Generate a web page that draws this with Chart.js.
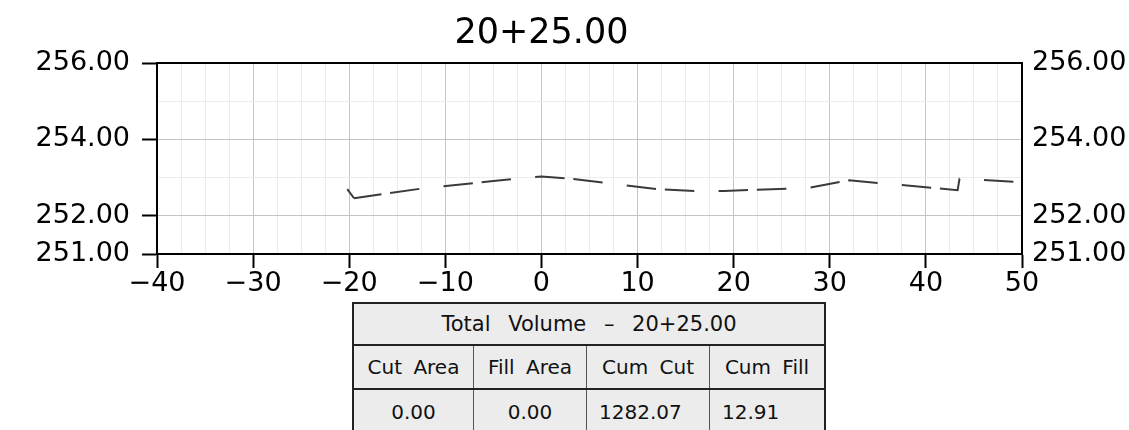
<!DOCTYPE html>
<html>
<head>
<meta charset="utf-8">
<script src="https://cdn.jsdelivr.net/npm/chart.js@4"></script>
<style>
  html, body { margin:0; padding:0; background:#fff; width:1129px; height:430px; overflow:hidden; }
  #wrap { position:relative; width:1129px; height:430px; }
  #c { position:absolute; left:0; top:0; }
  #title { position:absolute; top:10px; height:42px; line-height:42px; transform:translateX(-50%);
           font-family:"DejaVu Sans", sans-serif; font-size:35px; color:#000; white-space:nowrap; }
  #tbl { position:absolute; left:352px; top:302px; width:474px; box-sizing:border-box;
         border:2px solid #222; border-bottom:none; background:#ececec;
         font-family:"DejaVu Sans", sans-serif; font-size:20px; color:#111; word-spacing:5px; }
  .row { display:flex; box-sizing:border-box; }
  .hdr { height:42px; border-bottom:2px solid #222; justify-content:center; align-items:center; font-size:21px; word-spacing:11px; }
  .r2 { height:44px; border-bottom:2px solid #222; }
  .r3 { height:44px; }
  .cell { box-sizing:border-box; display:flex; align-items:center; justify-content:center; border-right:1px solid #555; white-space:nowrap; }
  .cell:last-child { border-right:none; }
  .left { justify-content:flex-start; padding-left:12px; }
</style>
</head>
<body>
<div id="wrap">
  <canvas id="c" width="1129" height="430"></canvas>
  <div id="title"></div>
  <div id="tbl"></div>
</div>
<script>
// ---- data ----
const stationLabel = "20+25.00";
const stationOffset = 0;
const offsets    = [-20.2, -19.5, -12, -5, 0, 3, 12, 16, 19, 25.6, 28, 32, 43.3, 43.5, 49.4, 50];
const elevations = [252.70, 252.46, 252.73, 252.91, 253.03, 252.97, 252.70, 252.65, 252.65, 252.71, 252.74, 252.93, 252.67, 252.97, 252.89, 252.83];
const xTickLabels = [-40, -30, -20, -10, 0, 10, 20, 30, 40, 50];
const yTickLabels = [251, 252, 254, 256];
const tableTitle = "Total Volume \u2013 20+25.00";
const tableHeaders = ["Cut Area", "Fill Area", "Cum Cut", "Cum Fill"];
const tableValues = ["0.00", "0.00", "1282.07", "12.91"];

// ---- table ----
const colW = [120, 113, 123, 114];
const valAlign = ["center", "center", "left", "left"];
const tbl = document.getElementById('tbl');
const hdr = document.createElement('div'); hdr.className = 'row hdr'; hdr.textContent = tableTitle; tbl.appendChild(hdr);
const r2 = document.createElement('div'); r2.className = 'row r2';
const r3 = document.createElement('div'); r3.className = 'row r3';
tableHeaders.forEach((h, i) => {
  const c = document.createElement('div'); c.className = 'cell'; c.style.width = colW[i] + 'px'; c.textContent = h; r2.appendChild(c);
  const d = document.createElement('div'); d.className = 'cell' + (valAlign[i] === 'left' ? ' left' : ''); d.style.width = colW[i] + 'px'; d.textContent = tableValues[i]; r3.appendChild(d);
});
tbl.appendChild(r2); tbl.appendChild(r3);

// ---- chart ----
const FONT = 'DejaVu Sans';
const fmtX = v => (v < 0 ? '\u2212' + Math.abs(v) : String(v));
const isMajorX = v => xTickLabels.includes(v);
const isMajorY = v => v === 252 || v === 254;

const chart = new Chart(document.getElementById('c'), {
  type: 'scatter',
  data: {
    datasets: [{
      data: offsets.map((x, i) => ({ x: x, y: elevations[i] })),
      showLine: true,
      borderColor: '#3a3a3a',
      borderWidth: 2,
      pointRadius: 0,
      tension: 0,
      borderDash: [29.5, 8.8, 29.5, 24.3],
      borderDashOffset: 1.8,
      segment: { borderDash: c => (c.p0DataIndex === 0 ? [] : undefined) }
    }]
  },
  options: {
    responsive: false,
    animation: false,
    layout: { padding: { top: 63 } },
    plugins: {
      legend: { display: false },
      tooltip: { enabled: false },
      title: { display: false }
    },
    scales: {
      x: {
        type: 'linear', position: 'bottom', min: -40, max: 50,
        ticks: { stepSize: 2.5, autoSkip: false, maxRotation: 0, padding: 0,
                 color: '#000', font: { family: FONT, size: 27 },
                 callback: v => (isMajorX(v) ? fmtX(v) : '') },
        grid: { color: c => (isMajorX(c.tick.value) ? '#c4c4c4' : '#ececec'), lineWidth: 1,
                tickLength: 14, tickWidth: 2,
                tickColor: c => (isMajorX(c.tick.value) ? '#000' : 'rgba(0,0,0,0)') },
        border: { color: '#000', width: 2 },
        afterFit: s => { s.height = 176; }
      },
      xTop: {
        type: 'linear', axis: 'x', position: 'top', min: -40, max: 50,
        ticks: { display: false },
        grid: { drawOnChartArea: false, drawTicks: false },
        border: { color: '#000', width: 2 },
        afterFit: s => { s.height = 0; }
      },
      y: {
        type: 'linear', position: 'left', min: 251, max: 256,
        ticks: { stepSize: 1, autoSkip: false, padding: 12, color: '#000', font: { family: FONT, size: 27 },
                 callback: v => (yTickLabels.includes(v) ? v.toFixed(2) : '') },
        grid: { color: c => (isMajorY(c.tick.value) ? '#c4c4c4' : '#ececec'), lineWidth: 1,
                tickLength: 15, tickWidth: 2,
                tickColor: c => (yTickLabels.includes(c.tick.value) ? '#000' : 'rgba(0,0,0,0)') },
        border: { color: '#000', width: 2 },
        afterFit: s => { s.width = 157; }
      },
      y2: {
        type: 'linear', position: 'right', min: 251, max: 256,
        ticks: { stepSize: 1, autoSkip: false, padding: 10, color: '#000', font: { family: FONT, size: 27 },
                 callback: v => (yTickLabels.includes(v) ? v.toFixed(2) : '') },
        grid: { drawOnChartArea: false, drawTicks: false },
        border: { color: '#000', width: 2 },
        afterFit: s => { s.width = 107; }
      }
    }
  }
});

// title centred over the station offset on the x scale
const t = document.getElementById('title');
t.textContent = stationLabel;
t.style.left = chart.scales.x.getPixelForValue(stationOffset) + 'px';
</script>
</body>
</html>
